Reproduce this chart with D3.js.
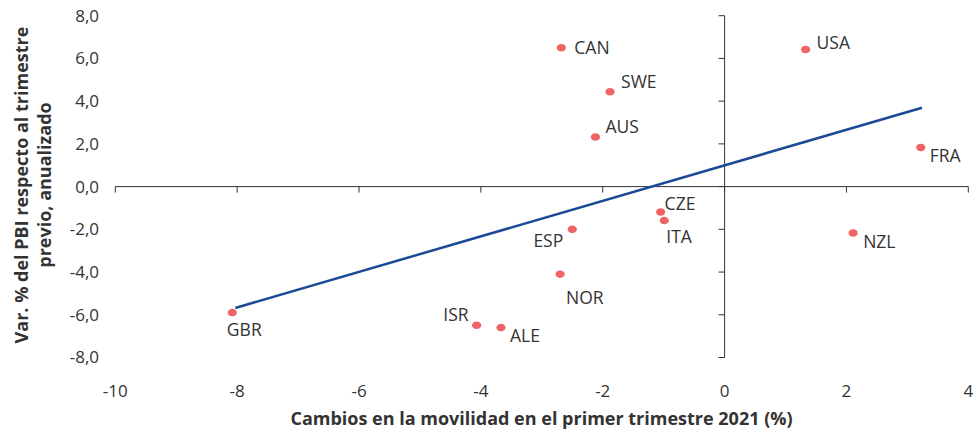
<!doctype html>
<html lang="es">
<head>
<meta charset="utf-8">
<title>Movilidad vs PBI</title>
<script src="https://cdn.jsdelivr.net/npm/d3@7"></script>
<style>
    body { margin: 0; background: #fff; }
    svg { display: block; font-family: "Open Sans", sans-serif; }
    .dot { fill: #ef6464; }
    .lbl { fill: #333; font-size: 17.5px; }
    .tick-lbl { fill: #333; font-size: 17px; }
    .title { fill: #333; font-size: 18px; font-weight: bold; }
</style>
</head>
<body>
<svg></svg>
<script>
    var width = 976;
    var height = 433;

    // data
    var countries = ["CAN", "USA", "SWE", "AUS", "FRA", "CZE", "ITA", "ESP", "NOR", "NZL", "GBR", "ISR", "ALE"];
    var mobility = [-2.68, 1.33, -1.88, -2.12, 3.22, -1.05, -0.99, -2.50, -2.70, 2.11, -8.08, -4.07, -3.67];
    var gdp = [6.5, 6.42, 4.44, 2.32, 1.83, -1.19, -1.59, -2.0, -4.10, -2.17, -5.90, -6.49, -6.60];
    var trendX = [-8.03, 3.24];
    var trendY = [-5.68, 3.69];
    var xTicks = [-10, -8, -6, -4, -2, 0, 2, 4];
    var yTicks = [8, 6, 4, 2, 0, -2, -4, -6, -8];

    // label offsets (px) and anchors
    var labelPos = {
        CAN: [13, 0, "start"], USA: [11, -7, "start"], SWE: [11, -10, "start"],
        AUS: [10, -10, "start"], FRA: [9, 8, "start"], CZE: [4, -8, "start"],
        ITA: [2, 16, "start"], ESP: [-9, 12, "end"], NOR: [6, 24, "start"],
        NZL: [10, 9, "start"], GBR: [12, 17, "middle"], ISR: [-8, -10, "end"],
        ALE: [9, 8, "start"]
    };

    var svg = d3.select("svg").attr("width", width).attr("height", height);

    var x = d3.scaleLinear().domain([-10, 4]).range([115.3, 968.3]);
    var y = d3.scaleLinear().domain([-8, 8]).range([357.5, 15.7]);

    // horizontal axis through y = 0
    svg.append("line")
        .attr("x1", x(-10)).attr("x2", x(4))
        .attr("y1", y(0)).attr("y2", y(0))
        .attr("stroke", "#333").attr("stroke-width", 1);
    svg.selectAll(".xt")
        .data(xTicks)
        .enter()
        .append("line")
        .attr("x1", function (d) { return x(d); })
        .attr("x2", function (d) { return x(d); })
        .attr("y1", y(0)).attr("y2", y(0) + 6)
        .attr("stroke", "#333");

    // vertical axis through x = 0
    svg.append("line")
        .attr("x1", x(0)).attr("x2", x(0))
        .attr("y1", y(8)).attr("y2", y(-8))
        .attr("stroke", "#333").attr("stroke-width", 1);
    svg.selectAll(".yt")
        .data(yTicks)
        .enter()
        .append("line")
        .attr("x1", x(0) - 6).attr("x2", x(0))
        .attr("y1", function (d) { return y(d); })
        .attr("y2", function (d) { return y(d); })
        .attr("stroke", "#333");

    // tick labels at the low side
    svg.selectAll(".xl")
        .data(xTicks)
        .enter()
        .append("text")
        .attr("class", "tick-lbl")
        .attr("x", function (d) { return x(d); })
        .attr("y", 390.7)
        .attr("dy", "0.35em")
        .attr("text-anchor", "middle")
        .text(function (d) { return d; });

    svg.selectAll(".yl")
        .data(yTicks)
        .enter()
        .append("text")
        .attr("class", "tick-lbl")
        .attr("x", 99)
        .attr("y", function (d) { return y(d); })
        .attr("dy", "0.35em")
        .attr("text-anchor", "end")
        .text(function (d) { return d.toFixed(1).replace(".", ","); });

    // trend line
    svg.append("line")
        .attr("x1", x(trendX[0])).attr("y1", y(trendY[0]))
        .attr("x2", x(trendX[1])).attr("y2", y(trendY[1]))
        .attr("stroke", "#1a4a96").attr("stroke-width", 2.5);

    // points
    svg.selectAll(".dot")
        .data(countries)
        .enter()
        .append("ellipse")
        .attr("class", "dot")
        .attr("cx", function (d, i) { return x(mobility[i]); })
        .attr("cy", function (d, i) { return y(gdp[i]); })
        .attr("rx", 4.6).attr("ry", 3.8);

    svg.selectAll(".lbl")
        .data(countries)
        .enter()
        .append("text")
        .attr("class", "lbl")
        .attr("x", function (d, i) { return x(mobility[i]) + labelPos[d][0]; })
        .attr("y", function (d, i) { return y(gdp[i]) + labelPos[d][1]; })
        .attr("dy", "0.35em")
        .attr("text-anchor", function (d) { return labelPos[d][2]; })
        .text(function (d) { return d; });

    // axis titles
    svg.append("text")
        .attr("class", "title")
        .attr("x", 541.5).attr("y", 419)
        .attr("dy", "0.35em")
        .attr("text-anchor", "middle")
        .text("Cambios en la movilidad en el primer trimestre 2021 (%)");

    var yt = svg.append("text")
        .attr("class", "title")
        .attr("transform", "translate(22,185) rotate(-90)")
        .attr("text-anchor", "middle");
    yt.append("tspan").attr("x", 0).attr("dy", "0.35em").text("Var. % del PBI respecto al trimestre");
    yt.append("tspan").attr("x", 0).attr("dy", "1.25em").text("previo, anualizado");
</script>
</body>
</html>
